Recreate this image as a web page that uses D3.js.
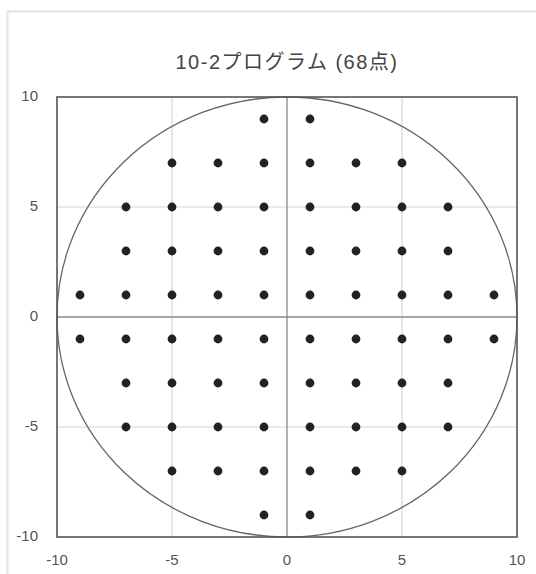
<!DOCTYPE html>
<html>
<head>
<meta charset="utf-8">
<script src="https://cdn.jsdelivr.net/npm/d3@7"></script>
<style>
  body { margin: 0; background: #fff; }
  svg text { font-family: "Liberation Sans", Arial, "Noto Sans CJK JP", sans-serif; }
</style>
</head>
<body>
<svg id="chart" width="536" height="574"></svg>
<script>
// test point rows (upper half, mirrored below): y value and the x values on that row
var rowY = [9, 7, 5, 3, 1];
var rowX = [
    [-1, 1],
    [-5, -3, -1, 1, 3, 5],
    [-7, -5, -3, -1, 1, 3, 5, 7],
    [-7, -5, -3, -1, 1, 3, 5, 7],
    [-9, -7, -5, -3, -1, 1, 3, 5, 7, 9]
];
var xTicks = [-10, -5, 0, 5, 10];
var yTicks = [-10, -5, 0, 5, 10];
var gridValues = [-5, 5];
var circleRadius = 10;
var title = '10-2プログラム (68点)';

var points = [];
rowY.forEach(function(y, i) {
    rowX[i].forEach(function(x) {
        points.push([x, y]);
        points.push([x, -y]);
    });
});

var svg = d3.select('#chart'),
    margin = {top: 97, right: 20, bottom: 37, left: 57},
    width = 536 - margin.left - margin.right,
    height = 574 - margin.top - margin.bottom,
    x = d3.scaleLinear().domain([-10, 10]).range([0, width + 1]),
    y = d3.scaleLinear().domain([-10, 10]).range([height, 0]);

// outer card frame
svg.append('rect')
    .attr('x', 7.5).attr('y', 11.5)
    .attr('width', 560).attr('height', 600)
    .attr('fill', 'none')
    .attr('stroke', '#e4e4e4')
    .attr('stroke-width', 2);

svg.append('text')
    .attr('x', 287).attr('y', 69)
    .attr('text-anchor', 'middle')
    .attr('font-size', 20)
    .attr('letter-spacing', 1.5)
    .attr('fill', '#444')
    .text(title);

var g = svg.append('g')
    .attr('transform', 'translate(' + margin.left + ',' + margin.top + ')');

// grid
g.selectAll('.vgrid')
    .data(gridValues)
    .enter().append('line')
    .attr('x1', function(d) { return x(d); })
    .attr('x2', function(d) { return x(d); })
    .attr('y1', 0).attr('y2', height)
    .attr('stroke', '#d6d6d6').attr('stroke-width', 1.2);
g.selectAll('.hgrid')
    .data(gridValues)
    .enter().append('line')
    .attr('y1', function(d) { return y(d); })
    .attr('y2', function(d) { return y(d); })
    .attr('x1', 0).attr('x2', x(10))
    .attr('stroke', '#d6d6d6').attr('stroke-width', 1.2);

// zero axes
g.append('line')
    .attr('x1', x(0)).attr('x2', x(0))
    .attr('y1', 0).attr('y2', height)
    .attr('stroke', '#888').attr('stroke-width', 1.3);
g.append('line')
    .attr('y1', y(0)).attr('y2', y(0))
    .attr('x1', 0).attr('x2', x(10))
    .attr('stroke', '#888').attr('stroke-width', 1.3);

// circle of radius 10 (ellipse since plot is not square)
g.append('ellipse')
    .attr('cx', x(0)).attr('cy', y(0))
    .attr('rx', x(circleRadius) - x(0))
    .attr('ry', y(0) - y(circleRadius))
    .attr('fill', 'none')
    .attr('stroke', '#666').attr('stroke-width', 1.3);

// plot frame
g.append('rect')
    .attr('x', 0).attr('y', 0)
    .attr('width', x(10)).attr('height', height)
    .attr('fill', 'none')
    .attr('stroke', '#555').attr('stroke-width', 1.6);

// points
g.selectAll('.pt')
    .data(points)
    .enter().append('circle')
    .attr('class', 'pt')
    .attr('cx', function(d) { return x(d[0]); })
    .attr('cy', function(d) { return y(d[1]); })
    .attr('r', 4.4)
    .attr('fill', '#222');

// tick labels
g.selectAll('.xlab')
    .data(xTicks)
    .enter().append('text')
    .attr('x', function(d) { return x(d); })
    .attr('y', height + 28)
    .attr('text-anchor', 'middle')
    .attr('font-size', 15)
    .attr('fill', '#555')
    .text(function(d) { return d; });
g.selectAll('.ylab')
    .data(yTicks)
    .enter().append('text')
    .attr('x', -19)
    .attr('y', function(d) { return y(d) + 4; })
    .attr('text-anchor', 'end')
    .attr('font-size', 15)
    .attr('fill', '#555')
    .text(function(d) { return d; });
</script>
</body>
</html>
